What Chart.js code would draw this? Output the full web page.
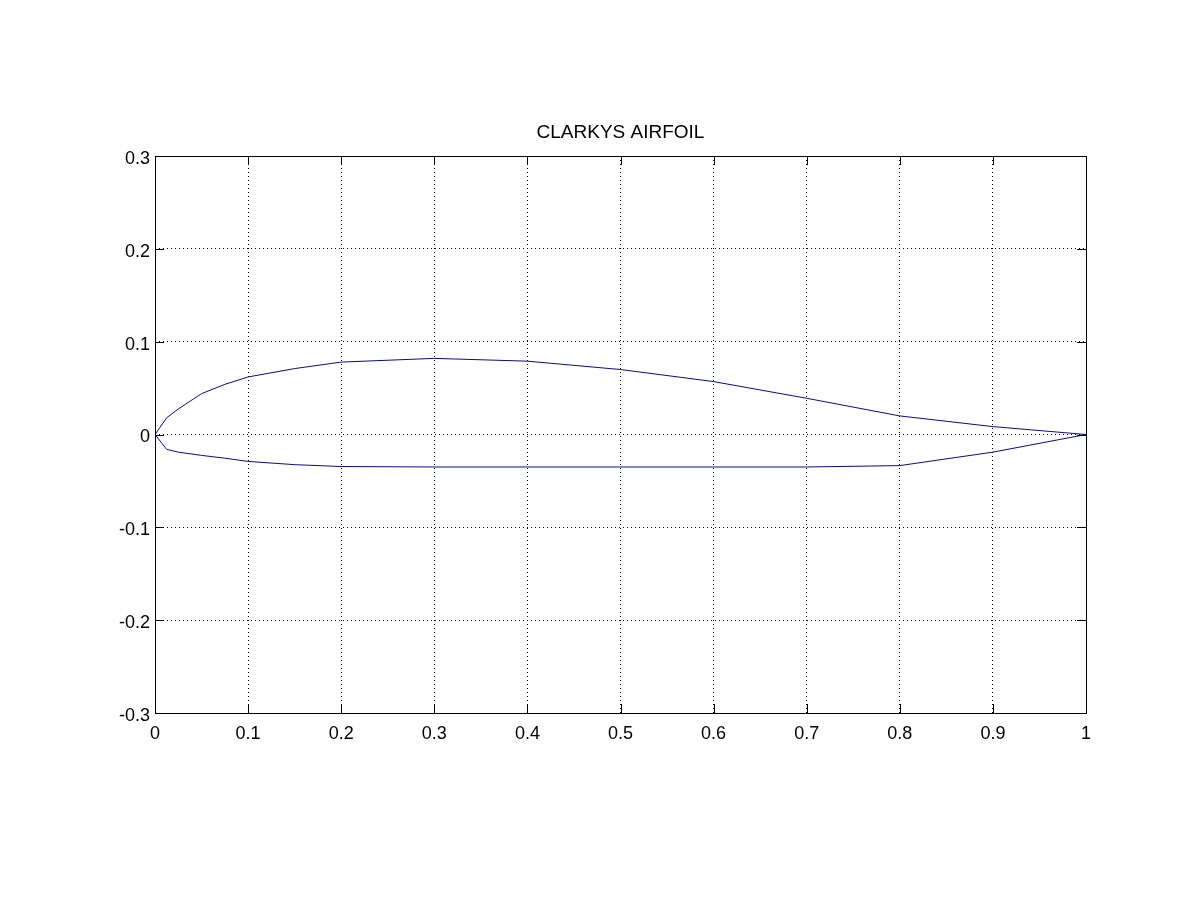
<!DOCTYPE html>
<html>
<head>
<meta charset="utf-8">
<title>CLARKYS AIRFOIL</title>
<script src="https://cdn.jsdelivr.net/npm/chart.js@4/dist/chart.umd.min.js"></script>
<style>
  body { margin: 0; background: #fff; }
  canvas { display: block; }
</style>
</head>
<body>
<canvas id="airfoilChart" width="1200" height="900"></canvas>
<script>
// chord stations and surface ordinates
var xCoords = [0, 0.0125, 0.025, 0.05, 0.075, 0.1, 0.15, 0.2, 0.3, 0.4, 0.5, 0.6, 0.7, 0.8, 0.9, 1.0];
var upperY  = [0, 0.018, 0.0275, 0.044, 0.054, 0.062, 0.071, 0.078, 0.082, 0.079, 0.070, 0.057, 0.039, 0.020, 0.0085, 0];
var lowerY  = [0, -0.016, -0.019, -0.0225, -0.0255, -0.029, -0.0325, -0.0345, -0.035, -0.035, -0.035, -0.035, -0.035, -0.0335, -0.019, 0];

var xTickValues = [0, 0.1, 0.2, 0.3, 0.4, 0.5, 0.6, 0.7, 0.8, 0.9, 1];
var xTickLabels = ['0', '0.1', '0.2', '0.3', '0.4', '0.5', '0.6', '0.7', '0.8', '0.9', '1'];
var yTickValues = [-0.3, -0.2, -0.1, 0, 0.1, 0.2, 0.3];
var yTickLabels = ['-0.3', '-0.2', '-0.1', '0', '0.1', '0.2', '0.3'];

var lineColor = 'rgb(10, 10, 140)';

function toPoints(xs, ys) {
    var pts = [];
    for (var i = 0; i < xs.length; i++) {
        pts.push({ x: xs[i], y: ys[i] });
    }
    return pts;
}

// box round the axes plus inward tick marks on all four sides (matlab style)
var boxPlugin = {
    id: 'boxPlugin',
    afterDraw: function (chart) {
        var ctx = chart.ctx;
        var a = chart.chartArea;
        var xs = chart.scales.x;
        var ys = chart.scales.y;
        var tl = 9;
        ctx.save();
        ctx.strokeStyle = '#000';
        ctx.lineWidth = 1;
        ctx.setLineDash([]);
        ctx.beginPath();
        xTickValues.forEach(function (v) {
            var px = Math.round(xs.getPixelForValue(v)) + 0.5;
            ctx.moveTo(px, a.bottom);
            ctx.lineTo(px, a.bottom - tl);
            ctx.moveTo(px, a.top);
            ctx.lineTo(px, a.top + tl);
        });
        yTickValues.forEach(function (v) {
            var py = Math.round(ys.getPixelForValue(v)) + 0.5;
            ctx.moveTo(a.left, py);
            ctx.lineTo(a.left + tl, py);
            ctx.moveTo(a.right, py);
            ctx.lineTo(a.right - tl, py);
        });
        ctx.stroke();
        ctx.strokeRect(Math.round(a.left) + 0.5, Math.round(a.top) + 0.5,
            Math.round(a.right - a.left), Math.round(a.bottom - a.top));
        ctx.restore();
    }
};

var ctx = document.getElementById('airfoilChart');
var airfoilChart = new Chart(ctx, {
    type: 'scatter',
    data: {
        datasets: [{
            label: 'upper',
            data: toPoints(xCoords, upperY),
            showLine: true,
            borderColor: lineColor,
            borderWidth: 1,
            pointRadius: 0,
            tension: 0
        }, {
            label: 'lower',
            data: toPoints(xCoords, lowerY),
            showLine: true,
            borderColor: lineColor,
            borderWidth: 1,
            pointRadius: 0,
            tension: 0
        }]
    },
    options: {
        responsive: false,
        animation: false,
        devicePixelRatio: 1,
        layout: { padding: { left: 0, right: 114, top: 0, bottom: 0 } },
        plugins: {
            legend: { display: false },
            tooltip: { enabled: false },
            title: {
                display: true,
                fullSize: false,
                text: 'CLARKYS AIRFOIL',
                color: '#000',
                font: { family: '"Liberation Sans", Arial, sans-serif', size: 19, weight: 'normal' },
                padding: { top: 121, bottom: 12.2 }
            }
        },
        scales: {
            x: {
                type: 'linear',
                min: 0,
                max: 1,
                afterBuildTicks: function (scale) {
                    scale.ticks = xTickValues.map(function (v) { return { value: v }; });
                },
                afterFit: function (scale) { scale.height = 187; },
                grid: { color: '#000', lineWidth: 1, drawTicks: false },
                border: { display: false, dash: [1, 3] },
                ticks: {
                    color: '#000',
                    padding: 10,
                    maxRotation: 0,
                    autoSkip: false,
                    font: { family: '"Liberation Sans", Arial, sans-serif', size: 18 },
                    callback: function (value) {
                        var i = xTickValues.indexOf(value);
                        return i >= 0 ? xTickLabels[i] : '';
                    }
                }
            },
            y: {
                type: 'linear',
                min: -0.3,
                max: 0.3,
                afterBuildTicks: function (scale) {
                    scale.ticks = yTickValues.map(function (v) { return { value: v }; });
                },
                afterFit: function (scale) { scale.width = 155; },
                grid: { color: '#000', lineWidth: 1, drawTicks: false },
                border: { display: false, dash: [1, 3] },
                ticks: {
                    color: '#000',
                    padding: 5,
                    labelOffset: 3,
                    autoSkip: false,
                    font: { family: '"Liberation Sans", Arial, sans-serif', size: 18 },
                    callback: function (value) {
                        var i = yTickValues.indexOf(value);
                        return i >= 0 ? yTickLabels[i] : '';
                    }
                }
            }
        }
    },
    plugins: [boxPlugin]
});
</script>
</body>
</html>
